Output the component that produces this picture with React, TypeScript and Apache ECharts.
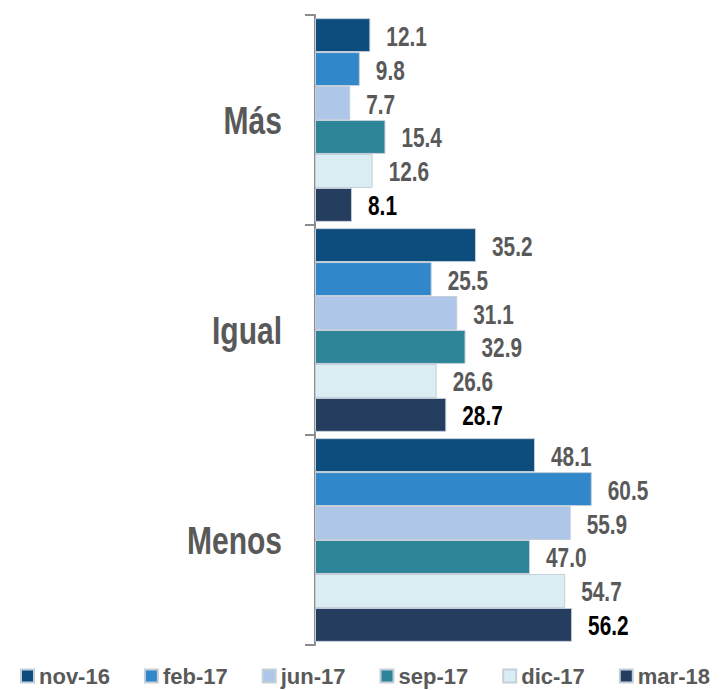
import React, { useEffect, useRef } from "react";
import * as echarts from "echarts";

const categories = ["Más", "Igual", "Menos"];
const seriesNames = ["nov-16", "feb-17", "jun-17", "sep-17", "dic-17", "mar-18"];
const nov16 = [12.1, 35.2, 48.1];
const feb17 = [9.8, 25.5, 60.5];
const jun17 = [7.7, 31.1, 55.9];
const sep17 = [15.4, 32.9, 47.0];
const dic17 = [12.6, 26.6, 54.7];
const mar18 = [8.1, 28.7, 56.2];
const seriesValues = [nov16, feb17, jun17, sep17, dic17, mar18];
const colors = ["#0D4D7E", "#3087C9", "#AEC6E8", "#2E8597", "#DAEDF3", "#253D5F"];

const FONT = "'Liberation Sans', Arial, sans-serif";
const CAT_GAP = 0.03;
const N = seriesNames.length;

export default function App() {
  const ref = useRef<HTMLDivElement>(null);
  useEffect(() => {
    if (!ref.current) return;
    const chart = echarts.init(ref.current, null, { renderer: "svg" });

    const barSeries = seriesNames.map((name, i) => ({
      name,
      type: "bar",
      data: seriesValues[i],
      barGap: "0%",
      barCategoryGap: CAT_GAP * 100 + "%",
      itemStyle: { color: colors[i], borderColor: "#C5CFD9", borderWidth: 1 },
      z: 2,
    }));

    const labelSeries = seriesNames.map((name, i) => ({
      name: "lbl-" + name,
      type: "custom",
      clip: false,
      z: 5,
      silent: true,
      data: seriesValues[i].map((v, c) => [v, c]),
      encode: { x: 0, y: 1 },
      renderItem: (params: any, api: any) => {
        const v = api.value(0);
        const c = api.value(1);
        const pt = api.coord([v, c]);
        const band = api.size([0, 1])[1];
        const used = band * (1 - CAT_GAP);
        const barW = used / N;
        const y = pt[1] - used / 2 + barW * (i + 0.5) + 1;
        return {
          type: "text",
          x: pt[0] + 16,
          y,
          scaleX: 0.77,
          style: {
            text: Number(v).toFixed(1),
            font: "bold 27px " + FONT,
            fill: i === N - 1 ? "#000000" : "#595959",
            align: "left",
            verticalAlign: "middle",
          },
        };
      },
    }));

    const catLabelSeries = {
      name: "cat-labels",
      type: "custom",
      clip: false,
      z: 5,
      silent: true,
      data: categories.map((_, c) => [0, c]),
      encode: { x: 0, y: 1 },
      renderItem: (params: any, api: any) => {
        const c = api.value(1);
        const pt = api.coord([0, c]);
        return {
          type: "text",
          x: pt[0] - 33,
          y: pt[1] + 1,
          scaleX: 0.79,
          style: {
            text: categories[c],
            font: "bold 38px " + FONT,
            fill: "#595959",
            align: "right",
            verticalAlign: "middle",
          },
        };
      },
    };

    chart.setOption({
      animation: false,
      grid: { left: 315, top: 15, bottom: 45, right: 44, containLabel: false },
      legend: {
        top: 660,
        left: 15,
        width: 705,
        itemWidth: 13,
        itemHeight: 13,
        itemGap: 34,
        icon: "rect",
        textStyle: {
          fontFamily: FONT,
          fontSize: 22,
          fontWeight: "bold",
          color: "#595959",
        },
        data: seriesNames,
      },
      xAxis: {
        type: "value",
        min: 0,
        max: 80,
        show: false,
      },
      yAxis: {
        type: "category",
        inverse: true,
        data: categories,
        axisLine: { show: true, lineStyle: { color: "#8C8C8C", width: 2 } },
        axisTick: { show: true, length: 10, lineStyle: { color: "#8C8C8C", width: 2 } },
        axisLabel: { show: false },
        splitLine: { show: false },
      },
      series: [...barSeries, ...labelSeries, catLabelSeries],
    });
    return () => chart.dispose();
  }, []);
  return <div ref={ref} style={{ width: 725, height: 690, position: "absolute", left: 0, top: 0 }} />;
}
